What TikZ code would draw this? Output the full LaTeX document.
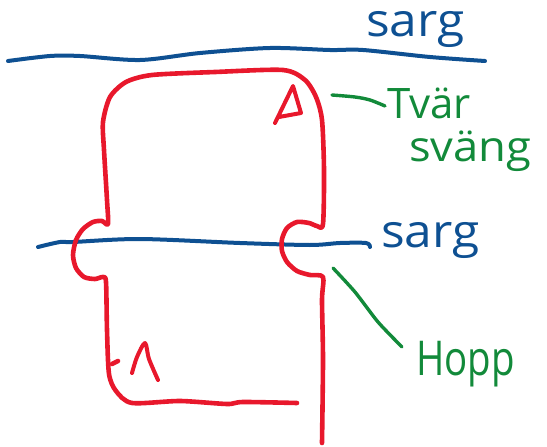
\documentclass[tikz,border=0pt]{standalone}
\usepackage{fontspec}
\newfontfamily\hand{Open Sans}
\newfontfamily\handwide[FakeStretch=1.08]{Open Sans}
\newfontfamily\handnarrow[FakeStretch=0.8]{Open Sans}
\definecolor{inkred}{RGB}{232,24,44}
\definecolor{inkblue}{RGB}{14,80,146}
\definecolor{inkgreen}{RGB}{18,138,58}
\begin{document}
\begin{tikzpicture}[x=1pt,y=-1pt,
  redink/.style={draw=inkred,line width=4.6pt,line cap=round,line join=round},
  blueink/.style={draw=inkblue,line width=4pt,line cap=round,line join=round},
  greenink/.style={draw=inkgreen,line width=3.4pt,line cap=round,line join=round},
  bluelabel/.style={text=inkblue,font=\handwide\fontsize{46}{50}\selectfont,inner sep=0pt,anchor=base west},
  greenlabel/.style={text=inkgreen,inner sep=0pt,anchor=base west}]
\useasboundingbox (0,0) rectangle (547,447);

% rails
\draw[blueink] plot[smooth,tension=0.5] coordinates {(8,61) (50,56) (80,56) (140,60) (200,53) (270,48) (330,50) (363,50) (430,57) (485,61)};
\draw[blueink] plot[smooth,tension=0.5] coordinates {(38,247) (60,242) (73,242) (140,239) (240,243) (310,245) (340,243) (366,243) (370,247)};

% track outline
\draw[redink] plot[smooth,tension=0.45] coordinates {
  (297,403) (243,402) (227,404) (180,401) (132,403) (116,391) (109,374) (107,330) (106,282)
  (103,277) (95,279) (84,277) (76,268) (73,255) (76,240) (83,229) (93,222) (102,221) (108,224)
  (107,200) (104,150) (103,122) (110,97) (126,82) (152,75) (215,72) (283,70)
  (305,80) (316,97) (322,120) (324,170) (323,224)
  (317,226) (309,223) (297,222) (287,228) (282,239) (282,251) (287,262) (297,271) (310,275) (323,277)
  (322,300) (323,360) (322,443)};
\draw[redink] (112,364) -- (118,361);

% markers
\draw[redink,line width=4pt] (279,117) -- (301,113) -- (293,86) -- (275,123);
\draw[redink,line width=4pt] plot[smooth,tension=0.5] coordinates {(132,373) (137,357) (145,343) (149,359) (158,380)};

% labels
\node[bluelabel] (sargtop) at (366,37) {sarg};
\node[bluelabel] (sargmid) at (381,247) {sarg};
\node[greenlabel,font=\hand\fontsize{42}{44}\selectfont] (tvar) at (387,118) {Tvär};
\node[greenlabel,font=\handwide\fontsize{42}{44}\selectfont] (svang) at (409,161) {sväng};
\node[greenlabel,font=\handnarrow\fontsize{48}{50}\selectfont] (hopp) at (416,375) {Hopp};

% leaders
\draw[greenink] plot[smooth,tension=0.5] coordinates {(332,95) (355,97) (370,100) (385,106)};
\draw[greenink] plot[smooth,tension=0.4] coordinates {(333,268) (355,292) (378,322) (402,347)};
\end{tikzpicture}
\end{document}
